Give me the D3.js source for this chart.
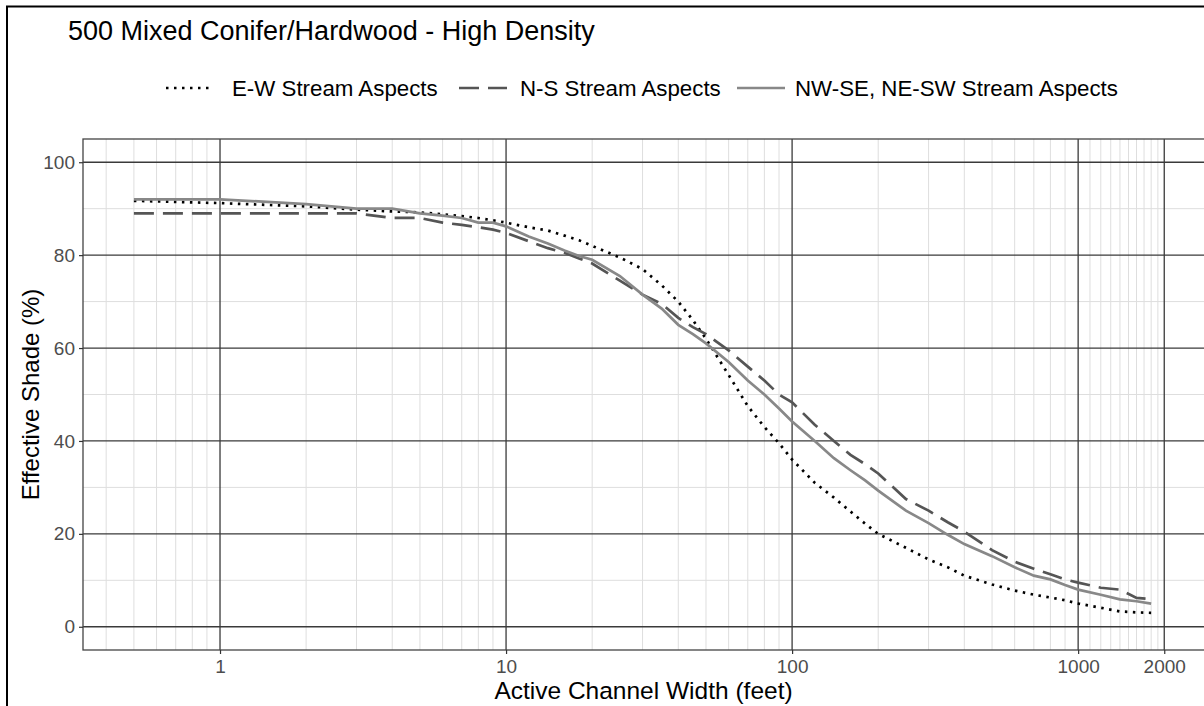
<!DOCTYPE html>
<html><head><meta charset="utf-8">
<script src="https://cdn.jsdelivr.net/npm/d3@7"></script>
<style>body{margin:0;background:#fff}svg{display:block;font-family:"Liberation Sans",Arial,sans-serif}</style>
</head><body><svg id="c" width="1204" height="706"></svg>
<script>
const title = "500 Mixed Conifer/Hardwood - High Density";
const xTitle = "Active Channel Width (feet)";
const yTitle = "Effective Shade (%)";
const seriesNames = ["E-W Stream Aspects", "N-S Stream Aspects", "NW-SE, NE-SW Stream Aspects"];
const widths = [0.5,1,2,3,4,5,6,7,8,9,10,12,14,16,18,20,25,30,35,40,45,50,60,70,80,90,100,120,140,160,180,200,250,300,350,400,500,600,700,800,900,1000,1200,1400,1600,1800];
const shadeEW = [91.7,91.2,90.5,89.8,89.4,89.2,88.8,88.4,88.0,87.5,87.0,86.0,85.3,84.2,83.2,82.0,79.5,77.0,73.5,70.0,66.0,62.0,54.2,47.5,43.0,39.5,36.0,31.0,27.8,24.8,22.2,20.0,17.0,14.5,12.8,11.0,9.1,7.8,6.9,6.3,5.7,5.0,4.1,3.3,3.1,3.0];
const shadeNS = [89,89,89,89,88,88,87,86.5,86,85.5,84.8,83,81.5,80.5,79.3,78.2,74.5,71.5,69.5,66.5,64.5,63,59.5,56,53,50,48.3,43.5,40,37,35,33,27.5,25,22.5,20.5,16.5,14,12.5,11.3,10.2,9.5,8.4,8,6.2,6];
const shadeDiag = [92,92,91,90,90,89,88.5,88,87,87,86.2,84,82.5,81,79.8,79,75.5,71.5,68.5,65,63,61,57,53,50,47,44.2,40,36.3,33.7,31.5,29.3,25,22.3,19.8,17.8,15.2,12.8,11,10.2,9,8,6.9,5.9,5.5,5];
const yTicks = [0,20,40,60,80,100];
const yMinor = [10,30,50,70,90];
const xTicks = [1,10,100,1000,2000];
const xMinor = [0.4,0.5,0.6,0.7,0.8,0.9,2,3,4,5,6,7,8,9,20,30,40,50,60,70,80,90,200,300,400,500,600,700,800,900,1100,1200,1300,1400,1500,1600,1700,1800,1900];

const svg = d3.select("#c");
const L=83, R=1204, T=139, B=650;
const x = d3.scaleLog().domain([Math.pow(10,-0.479), Math.pow(10,3.44)]).range([L,R]);
const y = d3.scaleLinear().domain([-5,105]).range([B,T]);

// frame
svg.append("line").attr("x1",6).attr("x2",1204).attr("y1",6.5).attr("y2",6.5).attr("stroke","#000").attr("stroke-width",2);
svg.append("line").attr("x1",7).attr("x2",7).attr("y1",6).attr("y2",706).attr("stroke","#000").attr("stroke-width",2);

const g = svg.append("g");
g.selectAll(".mx").data(xMinor).join("line").attr("x1",d=>x(d)).attr("x2",d=>x(d)).attr("y1",T).attr("y2",B).attr("stroke","#dedede").attr("stroke-width",1);
g.selectAll(".my").data(yMinor).join("line").attr("y1",d=>y(d)).attr("y2",d=>y(d)).attr("x1",L).attr("x2",R).attr("stroke","#dedede").attr("stroke-width",1);
g.selectAll(".Mx").data(xTicks).join("line").attr("x1",d=>x(d)).attr("x2",d=>x(d)).attr("y1",T).attr("y2",B).attr("stroke","#3a3a3a").attr("stroke-width",1.3);
g.selectAll(".My").data(yTicks).join("line").attr("y1",d=>y(d)).attr("y2",d=>y(d)).attr("x1",L).attr("x2",R).attr("stroke","#3a3a3a").attr("stroke-width",1.3);
g.append("rect").attr("x",L).attr("y",T).attr("width",R-L+5).attr("height",B-T).attr("fill","none").attr("stroke","#444").attr("stroke-width",1.3);

const xa = svg.append("g").attr("transform",`translate(0,${B})`).call(d3.axisBottom(x).tickValues(xTicks).tickFormat(d3.format("d")).tickSize(4).tickPadding(4));
const ya = svg.append("g").attr("transform",`translate(${L},0)`).call(d3.axisLeft(y).tickValues(yTicks).tickSize(4).tickPadding(4));
[xa,ya].forEach(a=>{a.select(".domain").remove();a.selectAll("line").attr("stroke","#333").attr("stroke-width",1.2);a.selectAll("text").attr("fill","#4d4d4d").style("font-size","19px").style("font-family","Liberation Sans, Arial, sans-serif");});
xa.selectAll("text").attr("dy",null).attr("y",23);

const styles = [
  {data:shadeEW, color:"#000", dash:"2.5,5.5", w:2.7},
  {data:shadeNS, color:"#555", dash:"20,9", w:2.7},
  {data:shadeDiag, color:"#888", dash:null, w:2.7}
];
const line = d3.line().x(d=>x(d[0])).y(d=>y(d[1]));
styles.forEach(s=>{
  svg.append("path").datum(widths.map((w,i)=>[w,s.data[i]])).attr("d",line).attr("fill","none").attr("stroke",s.color).attr("stroke-width",s.w).attr("stroke-dasharray",s.dash);
});

svg.append("text").attr("x",68).attr("y",40).text(title).style("font-size","27px").attr("fill","#000");
svg.append("text").attr("x",(L+R)/2).attr("y",699).attr("text-anchor","middle").text(xTitle).style("font-size","24.5px");
svg.append("text").attr("transform",`translate(39,${(T+B)/2}) rotate(-90)`).attr("text-anchor","middle").text(yTitle).style("font-size","24px");

const legX = [166, 459, 737];
const legTX = [232, 520, 795];
styles.forEach((s,i)=>{
  svg.append("line").attr("x1",legX[i]).attr("x2",legX[i]+48).attr("y1",88).attr("y2",88).attr("stroke",s.color).attr("stroke-width",s.w).attr("stroke-dasharray",s.dash);
  svg.append("text").attr("x",legTX[i]).attr("y",96).text(seriesNames[i]).style("font-size","22.3px");
});
</script></body></html>
